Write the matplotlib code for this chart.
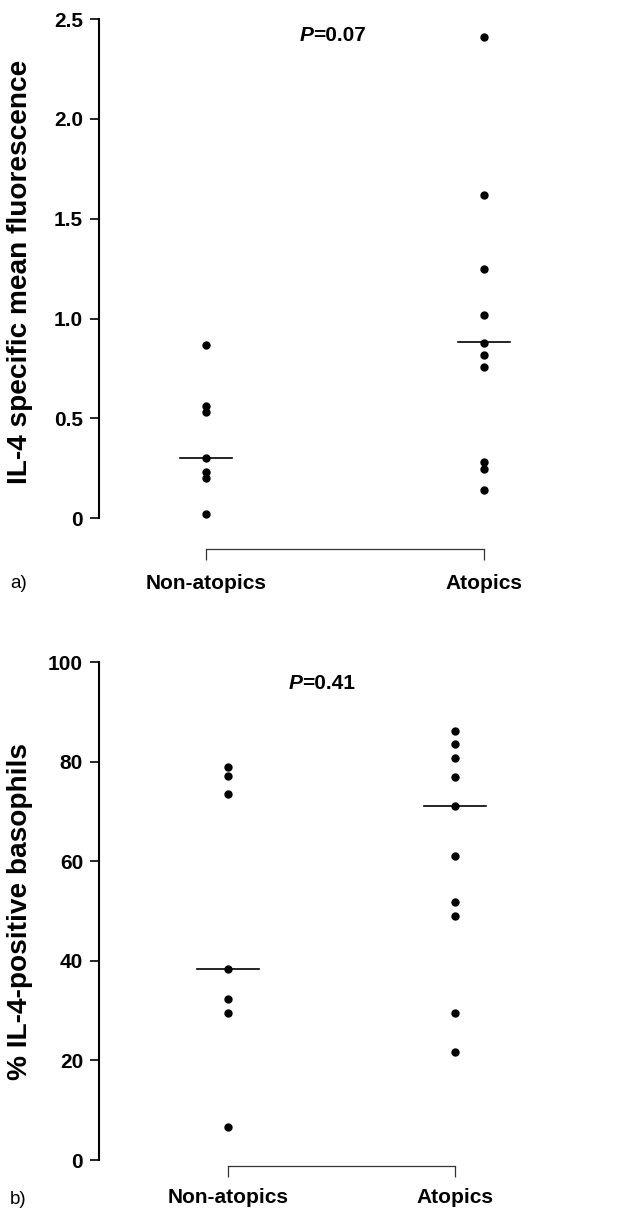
import matplotlib.pyplot as plt
import numpy as np

# panel a: IL-4 specific mean fluorescence
groups = ['Non-atopics', 'Atopics']
a_non = [0.87, 0.56, 0.53, 0.30, 0.23, 0.20, 0.02]
a_atop = [2.41, 1.62, 1.25, 1.02, 0.88, 0.82, 0.76, 0.28, 0.245, 0.14]
a_median = [0.30, 0.885]
a_ticks = [0, 0.5, 1.0, 1.5, 2.0, 2.5]
a_ticklabels = ['0', '0.5', '1.0', '1.5', '2.0', '2.5']
a_p = '0.07'

# panel b: % IL-4-positive basophils
b_non = [79.0, 77.2, 73.5, 38.4, 32.4, 29.5, 6.7]
b_atop = [86.2, 83.6, 80.7, 76.9, 71.1, 61.1, 51.9, 49.0, 29.5, 21.6]
b_median = [38.4, 71.1]
b_ticks = [0, 20, 40, 60, 80, 100]
b_ticklabels = ['0', '20', '40', '60', '80', '100']
b_p = '0.41'

FONT = ['Liberation Sans', 'DejaVu Sans']
plt.rcParams['font.family'] = FONT

W, H = 633, 1211
fig = plt.figure(figsize=(W / 100, H / 100), dpi=100)


def panel(rect, xlim, ylim, non, atop, med, hw, ticks, ticklabels, ylabel,
          ylab_y, ptxt, pxy, tag, tag_y, outward, xpad):
    ax = fig.add_axes(rect)
    ax.set_xlim(*xlim)
    ax.set_ylim(*ylim)
    ax.plot(np.zeros(len(non)), non, 'o', color='black', ms=5, clip_on=False)
    ax.plot(np.ones(len(atop)), atop, 'o', color='black', ms=5, clip_on=False)
    for i, m in enumerate(med):
        ax.plot([i - hw, i + hw], [m, m], color='black', lw=1.2, clip_on=False)

    for s in ['top', 'right']:
        ax.spines[s].set_visible(False)
    ax.spines['left'].set_linewidth(1.5)
    ax.spines['left'].set_bounds(ticks[0], ticks[-1])
    ax.spines['bottom'].set_position(('outward', outward))
    ax.spines['bottom'].set_bounds(0, 1)
    ax.spines['bottom'].set_linewidth(0.9)
    ax.spines['bottom'].set_color('#333333')

    ax.set_yticks(ticks)
    ax.set_yticklabels(ticklabels, fontweight='bold', fontsize=15)
    ax.tick_params(axis='y', direction='out', length=6.5, width=1.2, pad=5)
    ax.set_xticks([0, 1])
    ax.set_xticklabels(groups, fontweight='bold', fontsize=15)
    ax.tick_params(axis='x', direction='out', length=8, width=0.9,
                   color='#333333', pad=xpad)

    fig.text(20 / W, 1 - ylab_y / H, ylabel, rotation=90, ha='center',
             va='center', fontweight='bold', fontsize=20.2)
    fig.text(10 / W, 1 - tag_y / H, tag, ha='left', va='center', fontsize=13.5)

    ax.text(pxy[0], pxy[1], 'P', ha='right', va='center',
            fontweight='bold', style='italic', fontsize=15)
    ax.text(pxy[0], pxy[1], '=' + ptxt, ha='left', va='center',
            fontweight='bold', fontsize=15)
    return ax


# panel a: x=0 at 206 px, x=1 at 484 px; y 0 at 518 px, 2.5 at 19 px
sa = 278.0
panel([99 / W, 1 - 518.3 / H, 534 / W, (518.3 - 19) / H],
      ((99 - 206) / sa, (633 - 206) / sa), (0, 2.5),
      a_non, a_atop, a_median, 0.094, a_ticks, a_ticklabels,
      'IL-4 specific mean fluorescence', 272, a_p, (0.385, 2.415), 'a)', 583,
      22, 10)

# panel b: x=0 at 228 px, x=1 at 455 px; y 0 at 1160 px, 100 at 662 px
sb = 227.0
panel([99 / W, 1 - 1160 / H, 534 / W, (1160 - 662.3) / H],
      ((99 - 228) / sb, (633 - 228) / sb), (0, 100),
      b_non, b_atop, b_median, 0.137, b_ticks, b_ticklabels,
      '% IL-4-positive basophils', 912, b_p, (0.326, 95.8), 'b)', 1200,
      4, 8.5)

fig.savefig('out.png', dpi=100)
